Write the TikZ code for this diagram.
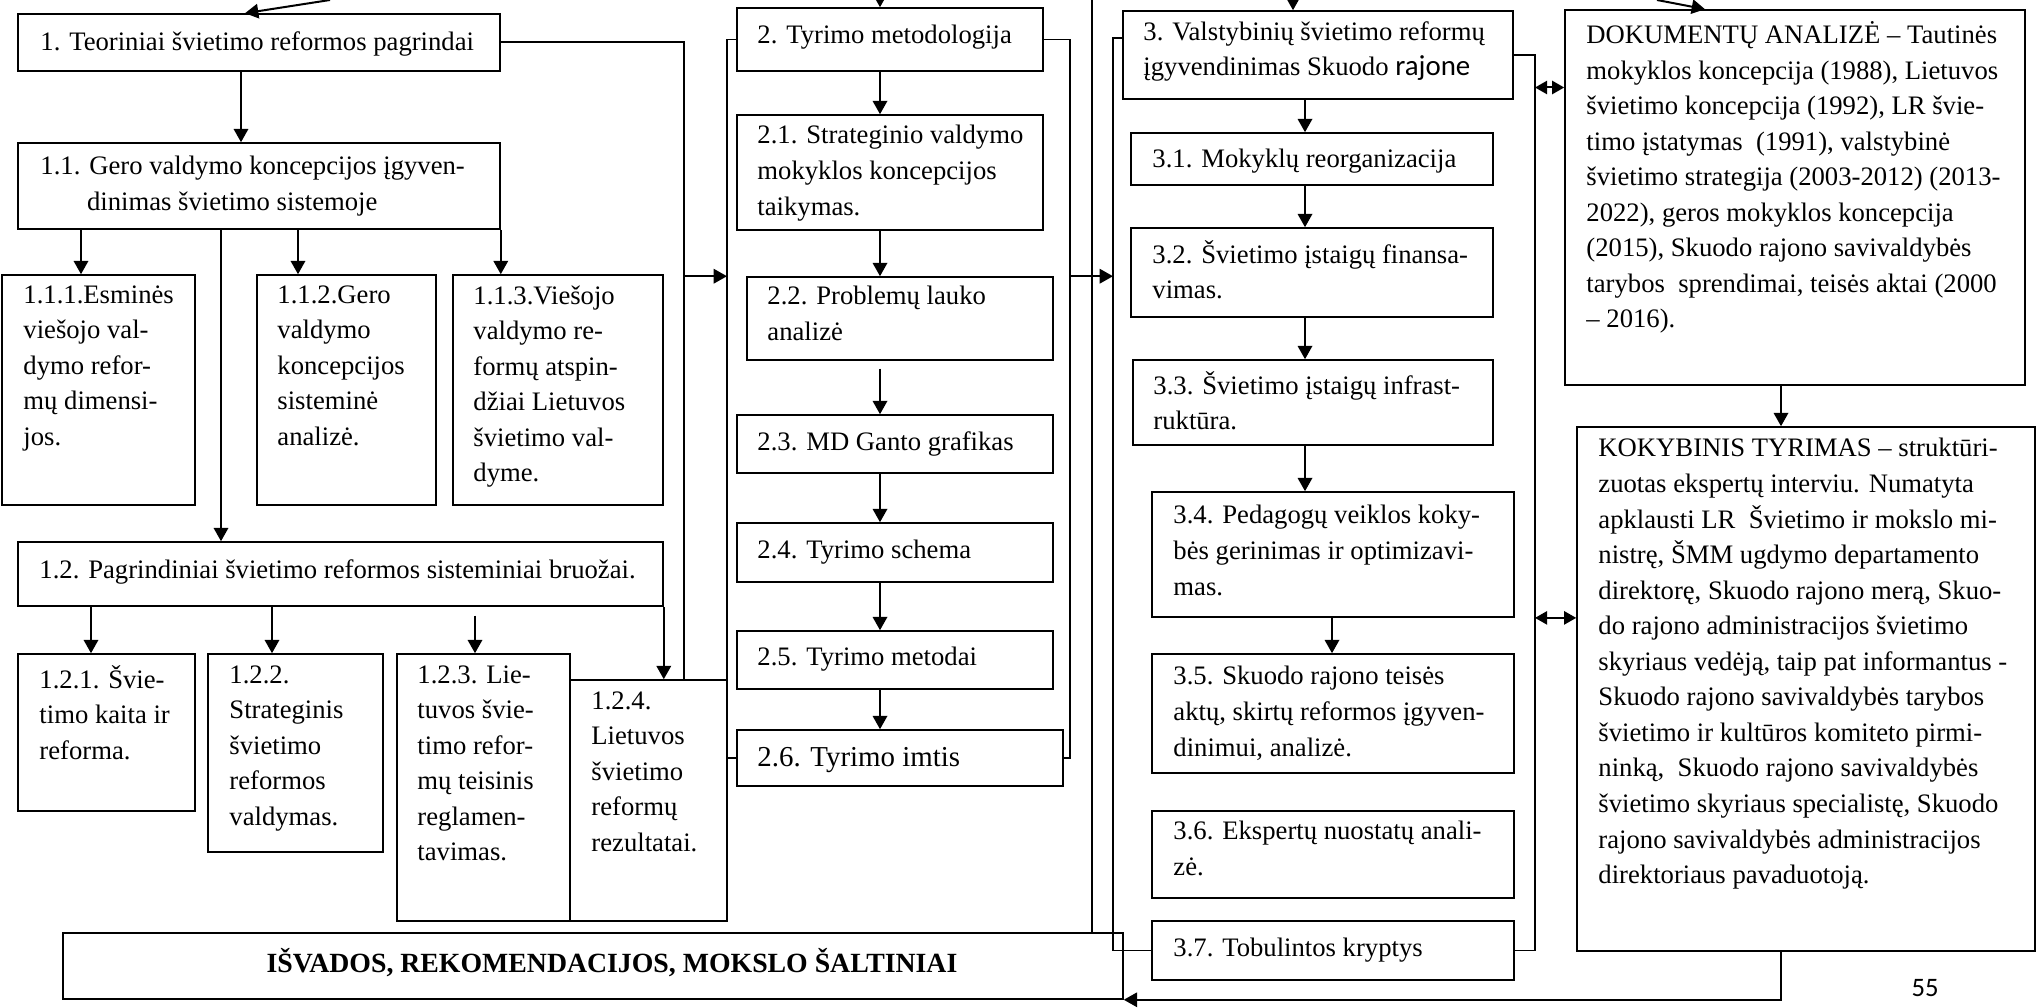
\documentclass[tikz,border=0pt]{standalone}
\usepackage{fontspec}
\setmainfont{Liberation Serif}
\newfontfamily\calibri{Carlito}
\usetikzlibrary{fit,arrows.meta}

\begin{document}
\begin{tikzpicture}[x=0.45pt, y=-0.45pt,
box/.style={rectangle, draw, line width=0.7pt, inner sep=0pt},
txt/.style={anchor=north west, align=left, inner sep=0pt, font=\fontsize{12}{16}\selectfont, execute at begin node=\strut},
arr/.style={line width=0.9pt, -{Triangle[length=6pt,width=6.5pt]}},
darr/.style={line width=0.9pt, {Triangle[length=5.5pt,width=6pt]}-{Triangle[length=5.5pt,width=6pt]}},
brk/.style={line width=0.6pt}]

\useasboundingbox (0,0) rectangle (2038,1008);

% column 1
\node[box, fit={(18,14) (500,71)}] (b1) {};
\node[box, fit={(18,143) (500,229)}] (b11) {};
\node[box, fit={(2,275) (195,505)}] (b111) {};
\node[box, fit={(257,275) (436,505)}] (b112) {};
\node[box, fit={(453,275) (663,505)}] (b113) {};
\node[box, fit={(18,542) (663,606)}] (b12) {};
\node[box, fit={(18,654) (195,811)}] (b121) {};
\node[box, fit={(208,654) (383,852)}] (b122) {};
\node[box, fit={(397,654) (570,921)}] (b123) {};
\node[box, fit={(570,680) (727,921)}] (b124) {};
\node[box, fit={(63,933) (1123,999)}] (isv) {};

\node[txt] (t1) at (40,25) {1. Teoriniai švietimo reformos pagrindai};
\node[txt] (t11) at (40,156) {1.1. Gero valdymo koncepcijos įgyven-\\\hspace*{21pt}dinimas švietimo sistemoje};
\node[txt] (t111) at (23,285) {1.1.1.Esminės\\viešojo val-\\dymo refor-\\mų dimensi-\\jos.};
\node[txt] (t112) at (277,285) {1.1.2.Gero\\valdymo\\koncepcijos\\sisteminė\\analizė.};
\node[txt] (t113) at (473,285) {1.1.3.Viešojo\\valdymo re-\\formų atspin-\\džiai Lietuvos\\švietimo val-\\dyme.};
\node[txt] (t12) at (39,553) {1.2. Pagrindiniai švietimo reformos sisteminiai bruožai.};
\node[txt] (t121) at (39,665) {1.2.1. Švie-\\timo kaita ir\\reforma.};
\node[txt] (t122) at (229,665) {1.2.2.\\Strateginis\\švietimo\\reformos\\valdymas.};
\node[txt] (t123) at (417,665) {1.2.3. Lie-\\tuvos švie-\\timo refor-\\mų teisinis\\reglamen-\\tavimas.};
\node[txt] (t124) at (591,691) {1.2.4.\\Lietuvos\\švietimo\\reformų\\rezultatai.};
\node[font=\bfseries\fontsize{12.5}{15}\selectfont] (tisv) at (612,963) {IŠVADOS, REKOMENDACIJOS, MOKSLO ŠALTINIAI};

% column 2
\node[box, fit={(737,8) (1043,71)}] (b2) {};
\node[box, fit={(737,115) (1043,230)}] (b21) {};
\node[box, fit={(747,277) (1053,360)}] (b22) {};
\node[box, fit={(737,415) (1053,473)}] (b23) {};
\node[box, fit={(737,523) (1053,582)}] (b24) {};
\node[box, fit={(737,631) (1053,689)}] (b25) {};
\node[box, fit={(737,730) (1063,786)}] (b26) {};

\node[txt] (t2) at (757,18) {2. Tyrimo metodologija};
\node[txt] (t21) at (757,125) {2.1. Strateginio valdymo\\mokyklos koncepcijos\\taikymas.};
\node[txt] (t22) at (767,286) {2.2. Problemų lauko\\analizė};
\node[txt] (t23) at (757,425) {2.3. MD Ganto grafikas};
\node[txt] (t24) at (757,533) {2.4. Tyrimo schema};
\node[txt] (t25) at (757,640) {2.5. Tyrimo metodai};
\node[txt, font=\fontsize{13}{17}\selectfont] (t26) at (757,740) {2.6. Tyrimo imtis};

% column 3
\node[box, fit={(1123,11) (1513,99)}] (b3) {};
\node[box, fit={(1131,133) (1493,185)}] (b31) {};
\node[box, fit={(1131,228) (1493,317)}] (b32) {};
\node[box, fit={(1133,360) (1493,445)}] (b33) {};
\node[box, fit={(1152,492) (1514,617)}] (b34) {};
\node[box, fit={(1152,654) (1514,773)}] (b35) {};
\node[box, fit={(1152,811) (1514,898)}] (b36) {};
\node[box, fit={(1152,921) (1514,980)}] (b37) {};

\node[txt] (t3) at (1143,21) {3. Valstybinių švietimo reformų\\įgyvendinimas Skuodo {\calibri\fontsize{13}{16}\selectfont rajone}};
\node[txt] (t31) at (1152,142) {3.1. Mokyklų reorganizacija};
\node[txt] (t32) at (1152,240) {3.2. Švietimo įstaigų finansa-\\vimas.};
\node[txt] (t33) at (1153,371) {3.3. Švietimo įstaigų infrast-\\ruktūra.};
\node[txt] (t34) at (1173,505) {3.4. Pedagogų veiklos koky-\\bės gerinimas ir optimizavi-\\mas.};
\node[txt] (t35) at (1173,666) {3.5. Skuodo rajono teisės\\aktų, skirtų reformos įgyven-\\dinimui, analizė.};
\node[txt] (t36) at (1173,821) {3.6. Ekspertų nuostatų anali-\\zė.};
\node[txt] (t37) at (1173,931) {3.7. Tobulintos kryptys};

% column 4
\node[box, fit={(1565,10) (2025,385)}] (dok) {};
\node[box, fit={(1577,427) (2035,951)}] (kok) {};

\node[txt] (tdok) at (1586,21) {DOKUMENTŲ ANALIZĖ – Tautinės\\mokyklos koncepcija (1988), Lietuvos\\švietimo koncepcija (1992), LR švie-\\timo įstatymas\ \ (1991), valstybinė\\švietimo strategija (2003-2012) (2013-\\2022), geros mokyklos koncepcija\\(2015), Skuodo rajono savivaldybės\\tarybos\ \ sprendimai, teisės aktai (2000\\– 2016).};
\node[txt] (tkok) at (1598,438) {KOKYBINIS TYRIMAS – struktūri-\\zuotas ekspertų interviu. Numatyta\\apklausti LR\ \ Švietimo ir mokslo mi-\\nistrę, ŠMM ugdymo departamento\\direktorę, Skuodo rajono merą, Skuo-\\do rajono administracijos švietimo\\skyriaus vedėją, taip pat informantus -\\Skuodo rajono savivaldybės tarybos\\švietimo ir kultūros komiteto pirmi-\\ninką,\ \ Skuodo rajono savivaldybės\\švietimo skyriaus specialistę, Skuodo\\rajono savivaldybės administracijos\\direktoriaus pavaduotoją.};

\node[font=\calibri\fontsize{12}{14}\selectfont] (pg) at (1925,988) {55};

% helper coordinates
\coordinate (in1) at (330,0);
\coordinate (in2) at (880,0);
\coordinate (in3) at (1293,0);
\coordinate (in4) at (1657,0);
\coordinate (vtop) at (1092,0);
\coordinate (k111) at (81,0);
\coordinate (k112) at (298,0);
\coordinate (k12) at (221,0);
\coordinate (k121) at (91,0);
\coordinate (k122) at (272,0);
\coordinate (k123) at (475,0);
\coordinate (k124) at (684,0);
\coordinate (kl2) at (727,0);
\coordinate (kr2) at (1070,0);
\coordinate (kl3) at (1113,0);
\coordinate (kr3) at (1535,0);
\coordinate (k3) at (1305,0);
\coordinate (k35) at (1332,0);
\coordinate (kdk) at (1781,0);
\coordinate (d1) at ([yshift=49.5pt]dok.west);
\coordinate (d2) at ([yshift=32pt]kok.west);

% entries from above
\draw[arr] (in1) -- ([xshift=-6.3pt]b1.north);
\draw[arr] (in2) -- (in2 |- b2.north);
\draw[arr] (in3) -- (in3 |- b3.north);
\draw[arr] (in4) -- ([xshift=-40.5pt]dok.north);
\draw[line width=0.9pt] (vtop) -- (vtop |- isv.north);

% column 1 arrows
\draw[arr] ([xshift=-8.1pt]b1.south) -- ([xshift=-8.1pt]b11.north);
\draw[arr] (k111 |- b11.south) -- (k111 |- b111.north);
\draw[arr] (k112 |- b11.south) -- (k112 |- b112.north);
\draw[arr] (b11.south east) -- (b11.south east |- b113.north);
\draw[arr] (k12 |- b11.south) -- (k12 |- b12.north);
\draw[arr] (k121 |- b12.south) -- (k121 |- b121.north);
\draw[arr] (k122 |- b12.south) -- (k122 |- b122.north);
\draw[arr, shorten <=4pt] (k123 |- b12.south) -- (k123 |- b123.north);
\draw[arr] (b12.south east) -- (b12.south east |- b124.north);
\draw[line width=0.9pt] (b1.east) -| (k124 |- b124.north);
\draw[arr] (k124 |- b22.north) -- (kl2 |- b22.north);

% column 2
\draw[brk] (b2.west) -| (kl2 |- b26.west) -- (b26.west);
\draw[brk] (b2.east) -| (kr2 |- b26.east) -- (b26.east);
\draw[arr] (in2 |- b2.south) -- (in2 |- b21.north);
\draw[arr] (in2 |- b21.south) -- (in2 |- b22.north);
\draw[arr, shorten <=3.5pt] (in2 |- b22.south) -- (in2 |- b23.north);
\draw[arr] (in2 |- b23.south) -- (in2 |- b24.north);
\draw[arr] (in2 |- b24.south) -- (in2 |- b25.north);
\draw[arr] (in2 |- b25.south) -- (in2 |- b26.north);
\draw[arr] (kr2 |- b22.north) -- (kl3 |- b22.north);

% column 3
\draw[brk] ([yshift=7.6pt]b3.west) -| (kl3 |- b37.west) -- (b37.west);
\draw[brk] (b3.east) -| (kr3 |- b37.east) -- (b37.east);
\draw[arr] (k3 |- b3.south) -- (k3 |- b31.north);
\draw[arr] (k3 |- b31.south) -- (k3 |- b32.north);
\draw[arr] (k3 |- b32.south) -- (k3 |- b33.north);
\draw[arr] (k3 |- b33.south) -- (k3 |- b34.north);
\draw[arr] (k35 |- b34.south) -- (k35 |- b35.north);
\draw[darr] (kr3 |- d1) -- (d1);
\draw[darr] (kr3 |- d2) -- (d2);

% column 4
\draw[arr] (kdk |- dok.south) -- (kdk |- kok.north);
\draw[arr] (kdk |- kok.south) |- (isv.south east);
\end{tikzpicture}
\end{document}
